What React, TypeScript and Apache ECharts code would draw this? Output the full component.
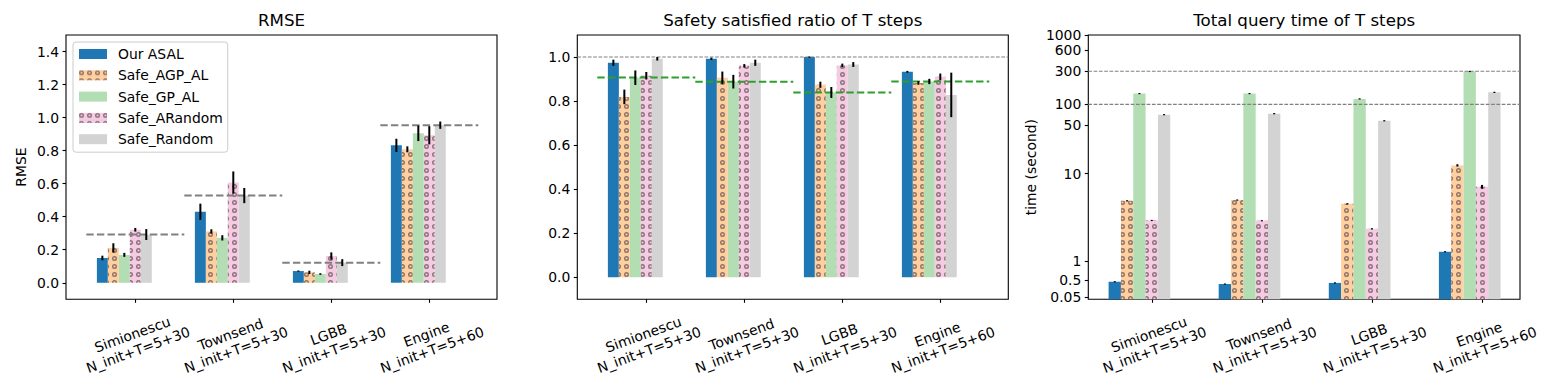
import React, { useEffect, useRef } from "react";
import * as echarts from "echarts";

const CATEGORIES = [
  "Simionescu\nN_init+T=5+30",
  "Townsend\nN_init+T=5+30",
  "LGBB\nN_init+T=5+30",
  "Engine\nN_init+T=5+60",
];
const METHODS = ["Our ASAL", "Safe_AGP_AL", "Safe_GP_AL", "Safe_ARandom", "Safe_Random"];

// RMSE (mean, error)
const RMSE_ASAL = [0.15, 0.43, 0.071, 0.832];
const RMSE_AGP = [0.211, 0.311, 0.063, 0.808];
const RMSE_GP = [0.169, 0.272, 0.053, 0.905];
const RMSE_ARANDOM = [0.321, 0.607, 0.162, 0.893];
const RMSE_RANDOM = [0.292, 0.528, 0.122, 0.954];
const RMSE_ASAL_ERR = [0.014, 0.049, 0.003, 0.04];
const RMSE_AGP_ERR = [0.028, 0.013, 0.01, 0.018];
const RMSE_GP_ERR = [0.012, 0.016, 0.005, 0.047];
const RMSE_ARANDOM_ERR = [0.011, 0.067, 0.022, 0.055];
const RMSE_RANDOM_ERR = [0.033, 0.046, 0.021, 0.022];
const RMSE_REF = [0.292, 0.528, 0.122, 0.954];

// Safety satisfied ratio (mean, error)
const SAFE_ASAL = [0.974, 0.992, 1.0, 0.933];
const SAFE_AGP = [0.819, 0.906, 0.874, 0.882];
const SAFE_GP = [0.906, 0.888, 0.839, 0.889];
const SAFE_ARANDOM = [0.915, 0.96, 0.962, 0.91];
const SAFE_RANDOM = [0.992, 0.974, 0.966, 0.828];
const SAFE_ASAL_ERR = [0.014, 0.005, 0.0, 0.004];
const SAFE_AGP_ERR = [0.033, 0.028, 0.014, 0.008];
const SAFE_GP_ERR = [0.033, 0.031, 0.025, 0.012];
const SAFE_ARANDOM_ERR = [0.017, 0.008, 0.008, 0.015];
const SAFE_RANDOM_ERR = [0.008, 0.014, 0.011, 0.101];
const SAFE_REF = [0.907, 0.888, 0.839, 0.889];
const SAFE_FULL_REF = [1.0];

// Total query time (seconds)
const TIME_ASAL = [0.46, 0.4, 0.43, 1.28];
const TIME_AGP = [4.9, 5.0, 4.53, 13.2];
const TIME_GP = [143, 143, 120, 298];
const TIME_ARANDOM = [2.92, 2.9, 2.34, 7.1];
const TIME_RANDOM = [71, 73.5, 58, 149];
const TIME_ASAL_ERR = [0.01, 0.0, 0.005, 0.01];
const TIME_AGP_ERR = [0.08, 0.0, 0.05, 0.5];
const TIME_GP_ERR = [1.5, 0.0, 2.0, 0.0];
const TIME_ARANDOM_ERR = [0.04, 0.03, 0.04, 0.35];
const TIME_RANDOM_ERR = [1.0, 1.5, 0.5, 3.0];
const TIME_FULL_REF = [100, 300];

const RMSE_TICKS = [0, 0.2, 0.4, 0.6, 0.8, 1.0, 1.2, 1.4];
const SAFE_TICKS = [0, 0.2, 0.4, 0.6, 0.8, 1.0];
const TIME_TICKS = [0.05, 0.5, 1, 10, 50, 100, 300, 600, 1000];
const TIME_TICK_LABELS = ["0.05", "0.5", "1", "10", "50", "100", "300", "600", "1000"];

const FONT = "DejaVu Sans";
const COLORS = ["#1f77b4", "#ffcfa0", "#b3deb3", "#f5cbe3", "#d3d3d3"];
const HATCHED = [false, true, false, true, false];
const BAR_FRAC = 0.112;
const RING =
  "path://M0 5A5 5 0 1 1 10 5A5 5 0 1 1 0 5ZM2.8 5A2.2 2.2 0 1 0 7.2 5A2.2 2.2 0 1 0 2.8 5Z";

// piecewise axis mapping for the time panel (linear below 1, logarithmic above)
const timeScale = (v: number) =>
  v <= 1 ? 0.55 * v : v <= 10 ? 0.55 + 1.26 * Math.log10(v) : 1.81 + Math.log10(v / 10);

const ident = (v: number) => v;

const TOP = 35;
const HEIGHT = 264.3;

const panels = [
  {
    title: "RMSE",
    frameLeft: 66,
    frameWidth: 431,
    dataLeft: 86.3,
    dataWidth: 392,
    min: -0.1,
    max: 1.5,
    ticks: RMSE_TICKS,
    fmt: (v: number) => v.toFixed(1),
    yName: "RMSE",
    nameGap: 38,
    map: ident,
    values: [RMSE_ASAL, RMSE_AGP, RMSE_GP, RMSE_ARANDOM, RMSE_RANDOM],
    errs: [RMSE_ASAL_ERR, RMSE_AGP_ERR, RMSE_GP_ERR, RMSE_ARANDOM_ERR, RMSE_RANDOM_ERR],
    groupRefs: RMSE_REF,
    groupRefColor: "#808080",
    fullRefs: [] as number[],
  },
  {
    title: "Safety satisfied ratio of T steps",
    frameLeft: 577.3,
    frameWidth: 431,
    dataLeft: 597.3,
    dataWidth: 392,
    min: -0.1,
    max: 1.1,
    ticks: SAFE_TICKS,
    fmt: (v: number) => v.toFixed(1),
    yName: "",
    nameGap: 40,
    map: ident,
    values: [SAFE_ASAL, SAFE_AGP, SAFE_GP, SAFE_ARANDOM, SAFE_RANDOM],
    errs: [SAFE_ASAL_ERR, SAFE_AGP_ERR, SAFE_GP_ERR, SAFE_ARANDOM_ERR, SAFE_RANDOM_ERR],
    groupRefs: SAFE_REF,
    groupRefColor: "#2ca02c",
    fullRefs: SAFE_FULL_REF,
  },
  {
    title: "Total query time of T steps",
    frameLeft: 1088.3,
    frameWidth: 431.7,
    dataLeft: 1096.7,
    dataWidth: 440.4,
    min: 0,
    max: timeScale(1000),
    ticks: TIME_TICKS.map(timeScale),
    fmt: (v: number) => {
      let best = 0;
      TIME_TICKS.forEach((t, i) => {
        if (Math.abs(timeScale(t) - v) < Math.abs(timeScale(TIME_TICKS[best]) - v)) best = i;
      });
      return TIME_TICK_LABELS[best];
    },
    yName: "time (second)",
    nameGap: 50,
    map: timeScale,
    values: [TIME_ASAL, TIME_AGP, TIME_GP, TIME_ARANDOM, TIME_RANDOM],
    errs: [TIME_ASAL_ERR, TIME_AGP_ERR, TIME_GP_ERR, TIME_ARANDOM_ERR, TIME_RANDOM_ERR],
    groupRefs: [] as number[],
    groupRefColor: "#808080",
    fullRefs: TIME_FULL_REF,
  },
];

function buildOption() {
  const grid: any[] = [];
  const xAxis: any[] = [];
  const yAxis: any[] = [];
  const series: any[] = [];
  const title: any[] = [];
  const textBase = { color: "#000", fontFamily: FONT, fontSize: 13.9 };

  panels.forEach((p, i) => {
    const fg = 2 * i; // frame grid
    const dg = 2 * i + 1; // data grid
    const fx = 3 * i;
    const dx = 3 * i + 1;
    const fy = 2 * i;
    const dy = 2 * i + 1;
    grid.push({
      left: p.frameLeft,
      top: TOP,
      width: p.frameWidth,
      height: HEIGHT,
      show: true,
      borderColor: "#000",
      borderWidth: 1.1,
      backgroundColor: "transparent",
    });
    grid.push({ left: p.dataLeft, top: TOP, width: p.dataWidth, height: HEIGHT });
    title.push({
      text: p.title,
      left: p.frameLeft + p.frameWidth / 2,
      textAlign: "center",
      top: 12,
      padding: 0,
      textStyle: { color: "#000", fontFamily: FONT, fontSize: 16.67, fontWeight: "normal" },
    });
    xAxis.push({ gridIndex: fg, type: "value", min: 0, max: 1, show: false });
    // first label line (with ticks)
    xAxis.push({
      gridIndex: dg,
      type: "category",
      position: "bottom",
      data: CATEGORIES,
      axisLine: { show: false, onZero: false },
      axisTick: { show: true, alignWithLabel: true, length: 3.5, lineStyle: { color: "#000", width: 1.1 } },
      axisLabel: {
        ...textBase,
        interval: 0,
        rotate: 20,
        align: "center",
        verticalAlign: "middle",
        margin: 34,
        padding: [0, 6, 0, 0],
        formatter: (v: string) => v.split("\n")[0],
      },
      splitLine: { show: false },
    });
    // second label line
    xAxis.push({
      gridIndex: dg,
      type: "category",
      position: "bottom",
      data: CATEGORIES,
      axisLine: { show: false, onZero: false },
      axisTick: { show: false },
      axisLabel: {
        ...textBase,
        interval: 0,
        rotate: 20,
        align: "center",
        verticalAlign: "middle",
        margin: 51.5,
        padding: [0, 0, 0, 6],
        formatter: (v: string) => v.split("\n")[1],
      },
      splitLine: { show: false },
    });
    yAxis.push({
      gridIndex: fg,
      type: "value",
      min: p.min,
      max: p.max,
      axisLine: { show: false },
      splitLine: { show: false },
      axisTick: {
        show: true,
        length: 3.5,
        customValues: p.ticks,
        lineStyle: { color: "#000", width: 1.1 },
      },
      axisLabel: { ...textBase, customValues: p.ticks, formatter: p.fmt, margin: 7 },
      name: p.yName,
      nameLocation: "middle",
      nameGap: p.nameGap,
      nameTextStyle: { ...textBase },
    });
    yAxis.push({ gridIndex: dg, type: "value", min: p.min, max: p.max, show: false });

    METHODS.forEach((m, k) => {
      series.push({
        type: "bar",
        name: m,
        xAxisIndex: dx,
        yAxisIndex: dy,
        barWidth: BAR_FRAC * 100 + "%",
        barGap: "0%",
        z: 2,
        itemStyle: {
          color: COLORS[k],
          decal: HATCHED[k]
            ? {
                symbol: RING,
                symbolSize: 1,
                dashArrayX: [5, 3],
                dashArrayY: [5, 3],
                color: "rgba(90,70,70,0.68)",
              }
            : "none",
        },
        data: p.values[k].map((v) => p.map(v)),
      });
    });
    ["_pad_a", "_pad_b"].forEach((n) => {
      series.push({
        type: "bar",
        name: n,
        xAxisIndex: dx,
        yAxisIndex: dy,
        barWidth: BAR_FRAC * 100 + "%",
        barGap: "0%",
        data: CATEGORIES.map(() => "-"),
      });
    });

    if (p.groupRefs.length) {
      series.push({
        type: "custom",
        name: "_group_ref",
        xAxisIndex: dx,
        yAxisIndex: dy,
        z: 4,
        data: p.groupRefs.map((v, c) => [c, v]),
        renderItem: (params: any, api: any) => {
          const c = api.coord([api.value(0), p.map(api.value(1))]);
          const band = api.size([1, 0])[0];
          return {
            type: "line",
            shape: { x1: c[0] - band / 2, y1: c[1], x2: c[0] + band / 2, y2: c[1] },
            style: { stroke: p.groupRefColor, lineWidth: 2, lineDash: [7.4, 3.2] },
          };
        },
      });
    }

    const errData: number[][] = [];
    p.values.forEach((arr, k) => arr.forEach((v, c) => errData.push([c, v, p.errs[k][c], k])));
    series.push({
      type: "custom",
      name: "_err",
      xAxisIndex: dx,
      yAxisIndex: dy,
      z: 5,
      data: errData,
      renderItem: (params: any, api: any) => {
        const c = api.value(0);
        const v = api.value(1);
        const e = api.value(2);
        const k = api.value(3);
        const lo = api.coord([c, p.map(v - e)]);
        const hi = api.coord([c, p.map(v + e)]);
        const band = api.size([1, 0])[0];
        const x = lo[0] + (k - 3) * band * BAR_FRAC;
        let y1 = lo[1];
        let y2 = hi[1];
        if (Math.abs(y1 - y2) < 1.2) {
          const mid = (y1 + y2) / 2;
          y1 = mid + 0.6;
          y2 = mid - 0.6;
        }
        return {
          type: "line",
          shape: { x1: x, y1, x2: x, y2 },
          style: { stroke: "#000", lineWidth: 2 },
        };
      },
    });

    if (p.fullRefs.length) {
      series.push({
        type: "custom",
        name: "_full_ref",
        xAxisIndex: fx,
        yAxisIndex: fy,
        z: 4,
        data: p.fullRefs.map((v) => [0, v]),
        renderItem: (params: any, api: any) => {
          const y = api.coord([0, p.map(api.value(1))])[1];
          const cs = params.coordSys;
          return {
            type: "line",
            shape: { x1: cs.x, y1: y, x2: cs.x + cs.width, y2: y },
            style: { stroke: "#808080", lineWidth: 1.1, lineDash: [3.7, 1.6] },
          };
        },
      });
    }
  });

  return {
    animation: false,
    backgroundColor: "#fff",
    title,
    grid,
    xAxis,
    yAxis,
    series,
    legend: {
      data: METHODS,
      orient: "vertical",
      left: 73,
      top: 42,
      itemWidth: 28,
      itemHeight: 10,
      itemGap: 7.3,
      padding: [5, 5, 6, 6],
      icon: "rect",
      selectedMode: false,
      backgroundColor: "rgba(255,255,255,0.8)",
      borderColor: "#cccccc",
      borderWidth: 1,
      borderRadius: 3,
      textStyle: { color: "#000", fontFamily: FONT, fontSize: 13.9, lineHeight: 14, padding: [0, 0, 0, 6] },
    },
  };
}

export default function App() {
  const ref = useRef<HTMLDivElement>(null);
  useEffect(() => {
    if (!ref.current) return;
    const chart = echarts.init(ref.current, null, { renderer: "svg" });
    chart.setOption(buildOption() as any);
    return () => chart.dispose();
  }, []);
  return (
    <div
      ref={ref}
      style={{ position: "fixed", left: 0, top: 0, width: 1560, height: 390, background: "#fff" }}
    />
  );
}
